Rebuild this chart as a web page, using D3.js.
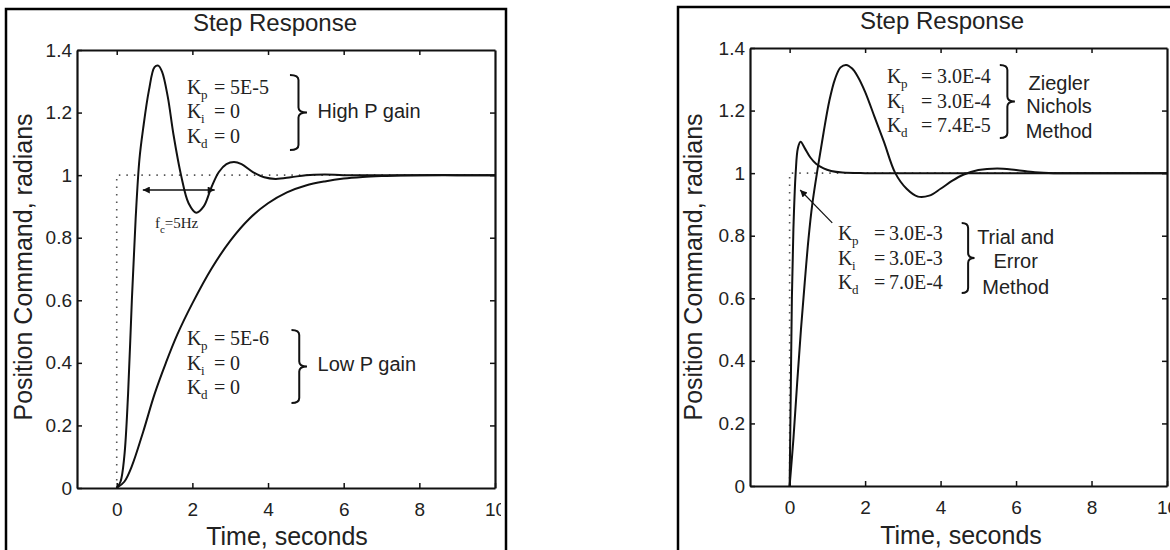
<!DOCTYPE html>
<html>
<head>
<meta charset="utf-8">
<script src="https://cdn.jsdelivr.net/npm/d3@7"></script>
<style>
  body { margin: 0; background: #fff; }
  svg { display: block; }
  .axis text { font-family: 'Liberation Sans', Arial, sans-serif; font-size: 19px; fill: #222; }
  .axis line, .axis path { stroke: #111; }
</style>
</head>
<body>
<svg width="1170" height="550"></svg>
<script>
// ---- data ----
var xTicks = [0, 2, 4, 6, 8, 10];
var yTicks = [0, 0.2, 0.4, 0.6, 0.8, 1, 1.2, 1.4];

var stepT = [0, 0, 10];
var stepV = [0, 1, 1];

// left: high / low proportional gain
var highGainT = [0, 0.1, 0.2, 0.3, 0.4, 0.5, 0.6, 0.7, 0.85, 1.0, 1.1, 1.2, 1.35, 1.5, 1.7, 1.9, 2.1, 2.3, 2.5, 2.7, 2.9, 3.1, 3.3, 3.6, 3.9, 4.2, 4.6, 5.0, 5.5, 6, 7, 8, 9, 10];
var highGainV = [0, 0.02, 0.1, 0.3, 0.6, 0.86, 1.05, 1.15, 1.27, 1.345, 1.35, 1.33, 1.25, 1.13, 1.0, 0.91, 0.88, 0.9, 0.96, 1.01, 1.035, 1.042, 1.035, 1.01, 0.993, 0.988, 0.993, 1.0, 1.002, 1.0, 1.0, 1.0, 1.0, 1.0];

var lowGainT = [0, 0.2, 0.4, 0.7, 1.0, 1.3, 1.6, 2.0, 2.5, 3.0, 3.5, 4.0, 4.5, 5.0, 5.5, 6, 6.5, 7, 7.5, 8, 9, 10];
var lowGainV = [0, 0.02, 0.07, 0.18, 0.3, 0.4, 0.49, 0.59, 0.70, 0.79, 0.86, 0.91, 0.945, 0.967, 0.98, 0.989, 0.994, 0.997, 0.999, 1, 1, 1];

// right: Ziegler-Nichols / trial and error
var znT = [0, 0.1, 0.2, 0.3, 0.4, 0.5, 0.6, 0.75, 0.9, 1.05, 1.2, 1.35, 1.5, 1.65, 1.8, 2.0, 2.25, 2.5, 2.8, 3.1, 3.4, 3.7, 4.0, 4.3, 4.6, 5.0, 5.5, 6.0, 6.5, 7, 8, 9, 10];
var znV = [0, 0.15, 0.33, 0.5, 0.65, 0.79, 0.9, 1.02, 1.13, 1.23, 1.3, 1.338, 1.346, 1.335, 1.31, 1.26, 1.18, 1.1, 1.0, 0.95, 0.925, 0.928, 0.95, 0.975, 0.995, 1.01, 1.015, 1.01, 1.003, 1.0, 1.0, 1.0, 1.0];

var trialT = [0, 0.03, 0.06, 0.1, 0.16, 0.22, 0.29, 0.4, 0.55, 0.7, 0.9, 1.1, 1.4, 2, 3, 4, 5, 6, 7, 8, 9, 10];
var trialV = [0, 0.3, 0.6, 0.82, 1.0, 1.08, 1.1, 1.08, 1.05, 1.03, 1.015, 1.007, 1.002, 1, 1, 1, 1, 1, 1, 1, 1, 1];

var highGains = [["p", "5E-5"], ["i", "0"], ["d", "0"]];
var lowGains = [["p", "5E-6"], ["i", "0"], ["d", "0"]];
var znGains = [["p", "3.0E-4"], ["i", "3.0E-4"], ["d", "7.4E-5"]];
var trialGains = [["p", "3.0E-3"], ["i", "3.0E-3"], ["d", "7.0E-4"]];

var SANS = "'Liberation Sans', Arial, sans-serif";
var SERIF = "'Liberation Serif', 'Times New Roman', serif";

var svg = d3.select("svg");

var defs = svg.append("defs");
defs.append("marker")
    .attr("id", "head")
    .attr("viewBox", "0 0 10 10")
    .attr("refX", 10).attr("refY", 5)
    .attr("markerUnits", "userSpaceOnUse")
    .attr("markerWidth", 11).attr("markerHeight", 7)
    .attr("orient", "auto-start-reverse")
  .append("path")
    .attr("d", "M0,0L10,5L0,10z")
    .attr("fill", "#111");
defs.append("clipPath").attr("id", "clipLeft")
  .append("rect").attr("x", 0).attr("y", 0).attr("width", 501).attr("height", 550);

var line = function (x, y) {
  return d3.line()
      .x(function (d) { return x(d[0]); })
      .y(function (d) { return y(d[1]); });
};

var brace = function (g, x0, x1, yTop, yBot) {
  var xm = (x0 + x1) / 2, ym = (yTop + yBot) / 2, r = 5;
  var p = d3.path();
  p.moveTo(x0, yTop);
  p.quadraticCurveTo(xm, yTop, xm, yTop + r);
  p.lineTo(xm, ym - r);
  p.quadraticCurveTo(xm, ym, x1, ym);
  p.quadraticCurveTo(xm, ym, xm, ym + r);
  p.lineTo(xm, yBot - r);
  p.quadraticCurveTo(xm, yBot, x0, yBot);
  g.append("path").attr("d", p.toString())
      .attr("fill", "none").attr("stroke", "#111").attr("stroke-width", 2);
};

var gainBlock = function (g, px, py, rows, eqDx, valDx) {
  rows.forEach(function (r, i) {
    var t = g.append("text")
        .attr("y", py + i * 24.5)
        .style("font-family", SERIF)
        .style("font-size", "20px")
        .attr("fill", "#222");
    t.append("tspan").attr("x", px).text("K");
    t.append("tspan").attr("x", px + 14).attr("dy", 5).style("font-size", "13px").text(r[0]);
    t.append("tspan").attr("x", px + eqDx).attr("dy", -5).text("=");
    t.append("tspan").attr("x", px + valDx).text(r[1]);
  });
};

var sideText = function (g, px, py, lines, anchor) {
  lines.forEach(function (s, i) {
    g.append("text")
        .attr("x", px).attr("y", py[i])
        .attr("text-anchor", anchor)
        .style("font-family", SANS)
        .style("font-size", "20px")
        .attr("fill", "#222")
        .text(s);
  });
};

var drawPanel = function (p) {
  // outer frame
  svg.append("path")
      .attr("d", p.framePath)
      .attr("fill", "none").attr("stroke", "#000").attr("stroke-width", 2.5);

  var g = svg.append("g");
  if (p.clip) g.attr("clip-path", "url(#" + p.clip + ")");

  var x = d3.scaleLinear().domain([-1.05, 10]).range(p.xRange);
  var y = d3.scaleLinear().domain([0, 1.4]).range(p.yRange);

  // reference step
  g.append("path")
      .datum(d3.zip(stepT, stepV))
      .attr("d", line(x, y))
      .attr("fill", "none").attr("stroke", "#555")
      .attr("stroke-width", 1.6).attr("stroke-dasharray", "1.5,6");

  p.series.forEach(function (s) {
    g.append("path")
        .datum(d3.zip(s[0], s[1]))
        .attr("d", line(x, y).curve(d3.curveCatmullRom.alpha(0.5)))
        .attr("fill", "none").attr("stroke", "#111").attr("stroke-width", 2);
  });

  // axes, ticks point inward on all sides
  g.append("g").attr("class", "axis")
      .attr("transform", "translate(0," + p.yRange[0] + ")")
      .call(d3.axisBottom(x).tickValues(xTicks).tickSizeInner(-5).tickSizeOuter(0).tickPadding(15));
  g.append("g").attr("class", "axis")
      .attr("transform", "translate(0," + p.yRange[1] + ")")
      .call(d3.axisTop(x).tickValues(xTicks.slice(0, 5)).tickSizeInner(-5).tickSizeOuter(0).tickFormat(""));
  g.append("g").attr("class", "axis")
      .attr("transform", "translate(" + p.xRange[0] + ",0)")
      .call(d3.axisLeft(y).tickValues(yTicks).tickSizeInner(-5).tickSizeOuter(0).tickPadding(5).tickFormat(d3.format("~g")));
  g.append("g").attr("class", "axis")
      .attr("transform", "translate(" + p.xRange[1] + ",0)")
      .call(d3.axisRight(y).tickValues(yTicks.slice(1, 7)).tickSizeInner(-5).tickSizeOuter(0).tickFormat(""));
  g.selectAll(".axis .domain").attr("stroke-width", 2.2);
  g.selectAll(".axis .tick line").attr("stroke-width", 1.5);

  // titles
  g.append("text")
      .attr("x", p.title[0]).attr("y", p.title[1])
      .attr("text-anchor", "middle")
      .style("font-family", SANS).style("font-size", "24px").attr("fill", "#222")
      .text("Step Response");
  g.append("text")
      .attr("x", p.xLabel[0]).attr("y", p.xLabel[1])
      .attr("text-anchor", "middle")
      .style("font-family", SANS).style("font-size", "25px").attr("fill", "#222")
      .text("Time, seconds");
  g.append("text")
      .attr("transform", "translate(" + p.yLabel[0] + "," + p.yLabel[1] + ") rotate(-90)")
      .attr("text-anchor", "middle")
      .style("font-family", SANS).style("font-size", "25px").attr("fill", "#222")
      .text("Position Command, radians");

  p.annotate(g, x, y);
};

drawPanel({
  framePath: "M6,560V9H506V560",
  clip: "clipLeft",
  xRange: [77, 495],
  yRange: [488, 50],
  title: [275, 31],
  xLabel: [287, 545],
  yLabel: [32, 267],
  series: [[highGainT, highGainV], [lowGainT, lowGainV]],
  annotate: function (g, x, y) {
    gainBlock(g, x(1.86), y(1.26), highGains, 27, 43);
    brace(g, x(4.58), x(5.03), y(1.32), y(1.08));
    sideText(g, x(5.31), [y(1.183)], ["High P gain"], "start");

    gainBlock(g, x(1.86), y(0.457), lowGains, 27, 43);
    brace(g, x(4.62), x(5.03), y(0.505), y(0.272));
    sideText(g, x(5.31), [y(0.374)], ["Low P gain"], "start");

    g.append("line")
        .attr("x1", x(0.69)).attr("x2", x(2.59))
        .attr("y1", y(0.9525)).attr("y2", y(0.9525))
        .attr("stroke", "#111").attr("stroke-width", 1.3)
        .attr("marker-start", "url(#head)").attr("marker-end", "url(#head)");
    var fc = g.append("text")
        .attr("x", x(1.01)).attr("y", y(0.831))
        .style("font-family", SERIF).style("font-size", "15px").attr("fill", "#222");
    fc.append("tspan").text("f");
    fc.append("tspan").attr("dy", 5).style("font-size", "11px").text("c");
    fc.append("tspan").attr("dy", -5).text("=5Hz");
  }
});

drawPanel({
  framePath: "M678,560V7H1175",
  xRange: [750, 1167],
  yRange: [486, 48],
  title: [942, 29],
  xLabel: [961, 544],
  yLabel: [702, 267],
  series: [[znT, znV], [trialT, trialV]],
  annotate: function (g, x, y) {
    gainBlock(g, x(2.58), y(1.288), znGains, 34, 50);
    brace(g, x(5.57), x(5.97), y(1.346), y(1.112));
    sideText(g, x(7.14), [y(1.266), y(1.192), y(1.112)], ["Ziegler", "Nichols", "Method"], "middle");

    gainBlock(g, x(1.28), y(0.786), trialGains, 36, 51);
    brace(g, x(4.56), x(4.9), y(0.841), y(0.617));
    sideText(g, x(5.99), [y(0.773), y(0.697), y(0.614)], ["Trial and", "Error", "Method"], "middle");

    g.append("line")
        .attr("x1", x(1.13)).attr("y1", y(0.841))
        .attr("x2", x(0.28)).attr("y2", y(0.946))
        .attr("stroke", "#111").attr("stroke-width", 1.2)
        .attr("marker-end", "url(#head)");
  }
});
</script>
</body>
</html>
